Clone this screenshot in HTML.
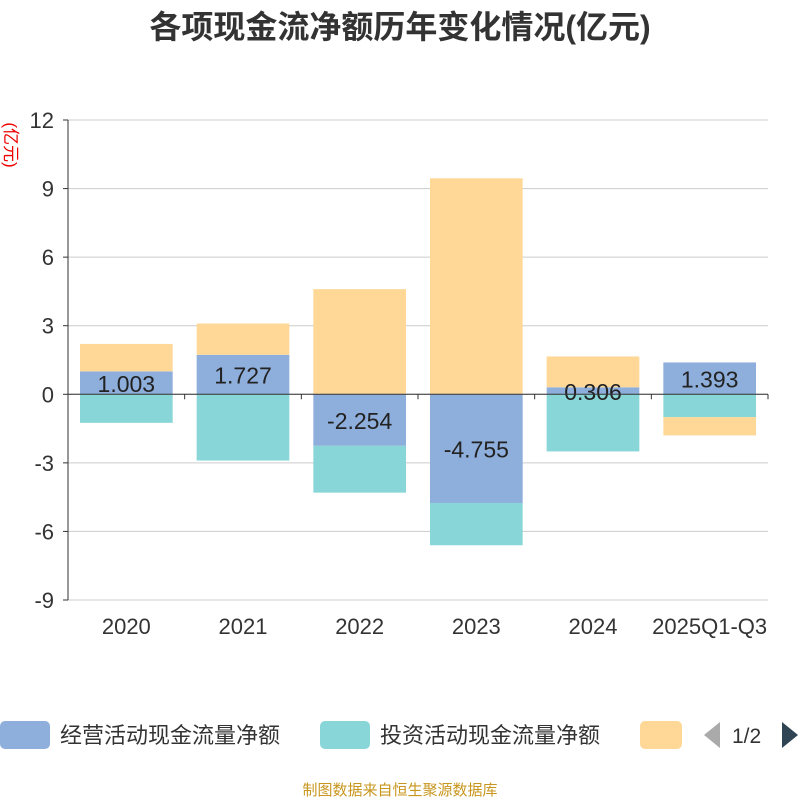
<!DOCTYPE html>
<html><head><meta charset="utf-8"><style>
body{margin:0;background:#fff;width:800px;height:800px;overflow:hidden;font-family:"Liberation Sans","Noto Sans CJK SC",sans-serif}
</style></head><body>
<svg id="c" width="800" height="800" xmlns="http://www.w3.org/2000/svg">
<text x="400" y="38" text-anchor="middle" font-size="32" font-weight="bold" fill="#333" font-family="Liberation Sans,Noto Sans CJK SC,sans-serif">各项现金流净额历年变化情况(亿元)</text>
<text transform="translate(5,145) rotate(90)" text-anchor="middle" font-size="17" fill="#e00" font-family="Liberation Sans,Noto Sans CJK SC,sans-serif">(亿元)</text>
<g id="grid"></g><g id="bars"></g><g id="axes"></g>
<g font-family="Liberation Sans,Noto Sans CJK SC,sans-serif" font-size="22" fill="#333">
<rect x="0" y="721" width="50" height="28" rx="5" fill="#8eaedb"/>
<text x="60" y="743">经营活动现金流量净额</text>
<rect x="320" y="721" width="50" height="28" rx="5" fill="#88d6d8"/>
<text x="380" y="743">投资活动现金流量净额</text>
<rect x="640" y="721" width="42" height="28" rx="5" fill="#ffd898"/>
<path d="M720 722 L704 735 L720 748Z" fill="#aaa"/>
<text x="732" y="743" font-size="21">1/2</text>
<path d="M782 722 L798 735 L782 748Z" fill="#2f4554"/>
</g>
<text x="400" y="795" text-anchor="middle" font-size="15" fill="#c8961e" font-family="Liberation Sans,Noto Sans CJK SC,sans-serif">制图数据来自恒生聚源数据库</text>
</svg>
<script>
const categories=["2020","2021","2022","2023","2024","2025Q1-Q3"];
const operating=[1.003,1.727,-2.254,-4.755,0.306,1.393];
const investing=[-1.25,-2.9,-2.05,-1.85,-2.5,-1.0];
const financing=[1.2,1.37,4.6,9.45,1.35,-0.8];
const yTicks=[12,9,6,3,0,-3,-6,-9];
const NS="http://www.w3.org/2000/svg";
const x0=68,x1=768,yTop=120,yBot=600,ymin=-9,ymax=12;
const y=v=>yTop+(ymax-v)/(ymax-ymin)*(yBot-yTop);
const bw=(x1-x0)/categories.length;
function mk(t,a,p){const e=document.createElementNS(NS,t);for(const k in a)e.setAttribute(k,a[k]);p.appendChild(e);return e;}
const grid=document.getElementById('grid'),bars=document.getElementById('bars'),axes=document.getElementById('axes');
yTicks.forEach(t=>{
 const l=mk('line',{x1:x0,x2:x1,y1:y(t),y2:y(t),stroke:'#ccc','stroke-width':1},grid);
 
 
 const tx=mk('text',{x:x0-14,y:y(t)+8,'text-anchor':'end','font-size':22,fill:'#333'},axes);tx.textContent=t;
 
 
 mk('line',{x1:x0-5,x2:x0,y1:y(t),y2:y(t),stroke:'#333'},axes);
});
const cols=['#8eaedb','#88d6d8','#ffd898'];
const series=[operating,investing,financing];
categories.forEach((c,i)=>{
 let pos=0,neg=0;const bx=x0+i*bw+12,w=bw-24;
 series.forEach((s,k)=>{
  const v=s[i];let a,b;
  if(v>=0){a=pos;b=pos+v;pos=b;}else{a=neg;b=neg+v;neg=b;}
  const r=mk('rect',{x:bx,y:Math.min(y(a),y(b)),width:w,height:Math.abs(y(a)-y(b)),fill:cols[k]},bars);
  
  
 });
 const v=operating[i];
 const lt=mk('text',{x:bx+w/2,y:y(v/2)+9,'text-anchor':'middle','font-size':23,fill:'#222'},bars);lt.textContent=v.toFixed(3);
 
 
 const xt=mk('text',{x:x0+i*bw+bw/2,y:634,'text-anchor':'middle','font-size':22,fill:'#333'},axes);xt.textContent=c;
 
 
 mk('line',{x1:x0+(i+1)*bw,x2:x0+(i+1)*bw,y1:y(0),y2:y(0)+5,stroke:'#333'},axes);
});
mk('line',{x1:x0,x2:x0,y1:yTop,y2:yBot,stroke:'#333'},axes);
mk('line',{x1:x0,x2:x1,y1:y(0),y2:y(0),stroke:'#333'},axes);
</script>
</body></html>
